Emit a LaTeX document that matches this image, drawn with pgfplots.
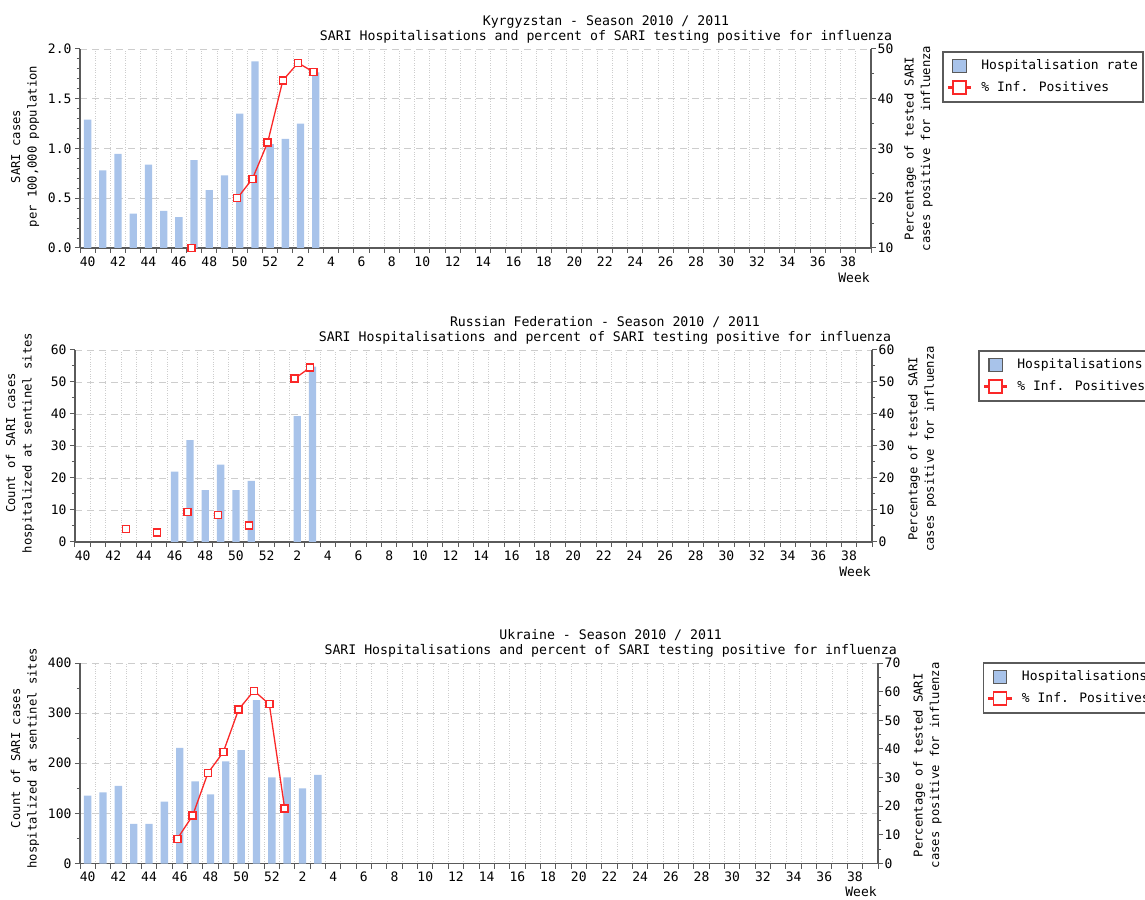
\documentclass[border=0pt]{standalone}
\usepackage{pgfplots}
\pgfplotsset{compat=1.18}
\usepackage{fontspec}
\setmainfont{DejaVu Sans Mono}
\definecolor{barblue}{RGB}{168,195,234}
\definecolor{linered}{RGB}{250,40,40}
\definecolor{axisgray}{RGB}{90,90,90}
\definecolor{gridgray}{RGB}{205,205,205}

\pgfplotsset{
  base/.style={
    scale only axis, anchor=south west,
    xmin=-0.5, xmax=51.5,
    tick align=outside, major tick length=5pt, minor tick length=3pt,
    every tick/.append style={axisgray, line width=1pt},
    axis line style={axisgray, line width=1.6pt},
    /pgf/number format/assume math mode=true,
    tick label style={font=\fontsize{13}{15}\selectfont},
    clip mode=individual,
  },
  leftax/.style={base,
    axis x line*=bottom, axis y line*=left,
    xtick={-0.5,0.5,...,51.5}, xticklabels={},
    xmajorgrids, x grid style={gridgray, dotted, line width=0.8pt},
    extra x ticks={0,2,...,50},
    extra x tick labels={40,42,44,46,48,50,52,2,4,6,8,10,12,14,16,18,20,22,24,26,28,30,32,34,36,38},
    extra x tick style={grid=none, major tick length=0pt, xticklabel style={yshift=-5pt}},
    ymajorgrids, y grid style={gridgray, dash pattern=on 7pt off 5pt, line width=0.9pt},
    xlabel={Week},
    xlabel style={at={(axis description cs:1,0)}, anchor=center, xshift=-17pt, yshift=-30pt, font=\fontsize{13}{15}\selectfont},
    ylabel style={align=center, font=\fontsize{12.2}{16.5}\selectfont, anchor=center},
    title style={align=center, font=\fontsize{13.2}{15}\selectfont, at={(axis description cs:0.665,1)}, anchor=south, yshift=-4pt},
  },
  rightax/.style={base,
    hide x axis, axis y line*=right,
    yticklabel style={inner xsep=1.5pt},
    ylabel style={align=center, font=\fontsize{12.2}{16.5}\selectfont, anchor=center},
    legend style={anchor=north west, draw=axisgray, line width=1.6pt, fill=white,
      font=\fontsize{13}{15}\selectfont, inner xsep=5pt, inner ysep=7pt,
      row sep=7pt, column sep=10pt,
      nodes={inner sep=0pt, text height=9.5pt, text depth=2.5pt}},
    legend cell align=left,
  },
  barimg/.style={legend image code/.code={\path[draw=none] (0pt,0pt) -- (22pt,0pt);
      \fill[axisgray] (4.5pt,-6.5pt) rectangle (17.5pt,6.5pt);
      \fill[barblue] (5.7pt,-5.3pt) rectangle (16.3pt,5.3pt);}},
  lineimg/.style={legend image code/.code={\fill[linered] (0pt,-0.6pt) rectangle (22pt,0.6pt);
      \fill[linered] (4.5pt,-6.5pt) rectangle (17.5pt,6.5pt);
      \fill[white] (6pt,-5pt) rectangle (16pt,5pt);}},
  barsty/.style={ybar, bar width=0.48, fill=barblue, draw=none},
  linesty/.style={draw=linered, line width=1.3pt, mark=none, xshift=-2.5pt, forget plot,
      nodes near coords={},
      every node near coord/.style={shape=rectangle, draw=linered, fill=white, line width=1.5pt,
        minimum size=7pt, inner sep=0pt, anchor=center}},
  marksty/.style={linesty, draw=none},
}

\begin{document}
\begin{tikzpicture}[font=\fontsize{13}{15}\selectfont]
\path[use as bounding box] (0,0) rectangle (1145pt,899pt);
\clip (0,0) rectangle (1145pt,899pt);

% ---------- Kyrgyzstan ----------
\begin{axis}[leftax, at={(80pt,651pt)}, width=791pt, height=199pt,
  ymin=0, ymax=2, ytick={0,0.5,...,2}, minor y tick num=4,
  yticklabel style={/pgf/number format/.cd, fixed, fixed zerofill, precision=1},
  ylabel={SARI cases\\per 100,000 population},
  ylabel style={at={(axis description cs:-0.0695,0.51)}},
  title={Kyrgyzstan - Season 2010 / 2011\\SARI Hospitalisations and percent of SARI testing positive for influenza}]
\addplot[barsty] coordinates {(0,1.29) (1,0.78) (2,0.945) (3,0.346) (4,0.837) (5,0.373) (6,0.309) (7,0.884) (8,0.582) (9,0.729) (10,1.351) (11,1.876) (12,1.045) (13,1.096) (14,1.25) (15,1.765)};
\end{axis}
\begin{axis}[rightax, at={(80pt,651pt)}, width=791pt, height=199pt,
  ymin=10, ymax=50, ytick={10,20,...,50}, minor y tick num=1,
  ylabel={Percentage of tested SARI\\cases positive for influenza},
  ylabel style={at={(axis description cs:1.060,0.5)}},
  legend style={at={(axis description cs:1.0897,0.99)}}]
\addlegendimage{barimg}
\addlegendentry{Hospitalisation rate}
\addlegendimage{lineimg}
\addlegendentry{\% Inf. Positives}
\addplot[marksty] coordinates {(7,10)};
\addplot[linesty] coordinates {(10,20.0) (11,23.9) (12,31.2) (13,43.7) (14,47.2) (15,45.4)};
\end{axis}

% ---------- Russian Federation ----------
\begin{axis}[leftax, at={(75pt,357pt)}, width=797pt, height=192pt,
  ymin=0, ymax=60, ytick={0,10,...,60}, minor y tick num=1,
  ylabel={Count of SARI cases\\hospitalized at sentinel sites},
  ylabel style={at={(axis description cs:-0.069,0.516)}},
  title={Russian Federation - Season 2010 / 2011\\SARI Hospitalisations and percent of SARI testing positive for influenza}]
\addplot[barsty] coordinates {(6,22) (7,31.8) (8,16.2) (9,24.2) (10,16.2) (11,19.1) (14,39.3) (15,54.8)};
\end{axis}
\begin{axis}[rightax, at={(75pt,357pt)}, width=797pt, height=192pt,
  ymin=0, ymax=60, ytick={0,10,...,60}, minor y tick num=1,
  ylabel={Percentage of tested SARI\\cases positive for influenza},
  ylabel style={at={(axis description cs:1.063,0.484)}},
  legend style={at={(axis description cs:1.133,1.000)}}]
\addlegendimage{barimg}
\addlegendentry{Hospitalisations}
\addlegendimage{lineimg}
\addlegendentry{\% Inf. Positives}
\addplot[marksty] coordinates {(3,4.0) (5,2.9) (7,9.4) (9,8.5) (11,5.2)};
\addplot[linesty] coordinates {(14,51.1) (15,54.5)};
\end{axis}

% ---------- Ukraine ----------
\begin{axis}[leftax, at={(80pt,35.5pt)}, width=798pt, height=200.5pt,
  ymin=0, ymax=400, ytick={0,100,...,400}, minor y tick num=1,
  ylabel={Count of SARI cases\\hospitalized at sentinel sites},
  ylabel style={at={(axis description cs:-0.0689,0.525)}},
  xlabel style={yshift=2pt},
  title={Ukraine - Season 2010 / 2011\\SARI Hospitalisations and percent of SARI testing positive for influenza}]
\addplot[barsty] coordinates {(0,135.5) (1,142) (2,154.7) (3,79.3) (4,79.3) (5,123.6) (6,230.7) (7,164) (8,138) (9,203.6) (10,226) (11,326) (12,172) (13,172) (14,150) (15,177)};
\end{axis}
\begin{axis}[rightax, at={(80pt,35.5pt)}, width=798pt, height=200.5pt,
  ymin=0, ymax=70, ytick={0,10,...,70}, minor y tick num=1,
  ylabel={Percentage of tested SARI\\cases positive for influenza},
  ylabel style={at={(axis description cs:1.062,0.49)}},
  legend style={at={(axis description cs:1.131,1.005)}}]
\addlegendimage{barimg}
\addlegendentry{Hospitalisations}
\addlegendimage{lineimg}
\addlegendentry{\% Inf. Positives}
\addplot[linesty] coordinates {(6,8.6) (7,16.7) (8,31.6) (9,38.9) (10,53.8) (11,60.3) (12,55.6) (13,19.2)};
\end{axis}
\end{tikzpicture}
\end{document}
